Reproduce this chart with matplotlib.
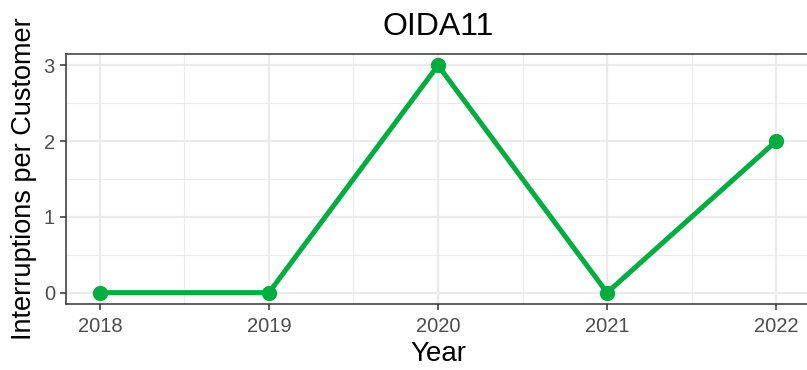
import numpy as np
import matplotlib
matplotlib.use('Agg')
import matplotlib.pyplot as plt
from matplotlib.ticker import MultipleLocator

years = [2018, 2019, 2020, 2021, 2022]
interruptions = [0, 0, 3, 0, 2]

plt.rcParams['font.family'] = ['Liberation Sans', 'DejaVu Sans']

fig = plt.figure(figsize=(8.07, 3.70), dpi=100)
ax = fig.add_axes([66/807, 1 - 304/370, 744/807, 250/370])

ax.plot(years, interruptions, color='#00AD3F', linewidth=3.6, marker='o',
        markersize=10, solid_capstyle='round', zorder=3)

ax.set_xlim(2018 - 0.2, 2022 + 0.2)
ax.set_ylim(-0.15, 3.15)
ax.xaxis.set_major_locator(MultipleLocator(1))
ax.xaxis.set_minor_locator(MultipleLocator(0.5))
ax.yaxis.set_major_locator(MultipleLocator(1))
ax.yaxis.set_minor_locator(MultipleLocator(0.5))

ax.grid(which='major', color='#EBEBEB', linewidth=1.6)
ax.grid(which='minor', color='#EBEBEB', linewidth=0.8)
ax.set_axisbelow(True)

for s in ax.spines.values():
    s.set_color('#333333')
    s.set_linewidth(1.1)

ax.tick_params(which='major', length=4, width=1.1, color='#333333',
               labelcolor='#4D4D4D', labelsize=14.5)
ax.tick_params(axis='x', which='major', pad=5)
ax.tick_params(axis='y', which='major', pad=4)
ax.tick_params(which='minor', length=0)

ax.set_title('OIDA11', fontsize=23, pad=14)
ax.set_xlabel('Year', fontsize=20, labelpad=4)
ax.set_ylabel('Interruptions per Customer', fontsize=19.5, labelpad=5)

fig.savefig('out.png', dpi=100)
